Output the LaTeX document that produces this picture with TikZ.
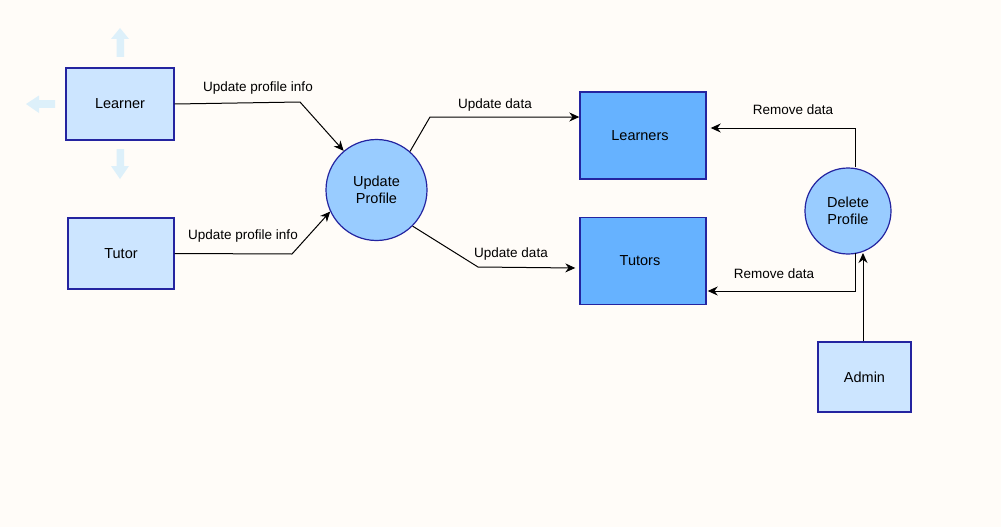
\documentclass[tikz,border=0pt]{standalone}
\usepackage{fontspec}
\setmainfont{Liberation Sans}
\usetikzlibrary{arrows.meta}
\definecolor{bgpaper}{RGB}{255,252,248}
\definecolor{edgeblue}{RGB}{36,36,160}
\definecolor{paleblue}{RGB}{204,229,255}
\definecolor{midblue}{RGB}{153,204,255}
\definecolor{storeblue}{RGB}{102,178,255}
\definecolor{ghostblue}{RGB}{221,240,250}
\tikzset{
        entity/.style={draw=edgeblue,line width=1.4pt,fill=paleblue,minimum width=#1,inner sep=0pt,font=\fontsize{14.5}{17}\selectfont},
        store/.style={draw=edgeblue,line width=1.4pt,fill=storeblue,minimum width=126pt,minimum height=87pt,inner sep=0pt,font=\fontsize{14.5}{17}\selectfont},
        process/.style={circle,draw=edgeblue,line width=1.2pt,fill=midblue,minimum size=#1,inner sep=0pt,align=center,font=\fontsize{14.5}{17}\selectfont},
        flow/.style={line width=1pt,-{Stealth[length=10pt,width=9pt]}},
        flowlabel/.style={font=\fontsize{13.5}{16}\selectfont,inner sep=0pt},
        ghost/.style={fill=ghostblue,draw=none}
}
\begin{document}
\begin{tikzpicture}[x=1pt,y=-1pt]
        \fill[bgpaper] (0,0) rectangle (1001,527);
        \useasboundingbox (0,0) rectangle (1001,527);
        \path[ghost] (120,28)--(129,39)--(124,39)--(124,57)--(116.5,57)--(116.5,39)--(111,39)--cycle;
        \path[ghost] (26,104)--(39,95.5)--(39,100)--(55,100)--(55,107.8)--(39,107.8)--(39,113)--cycle;
        \path[ghost] (120,179)--(129,166)--(124,166)--(124,149)--(116.5,149)--(116.5,166)--(111,166)--cycle;
        \node[entity=108pt,minimum height=72pt] (learner) at (120,104) {\raisebox{-1pt}{Learner}};
        \node[entity=106pt,minimum height=71pt] (tutor) at (121,253.5) {\raisebox{-1pt}{Tutor}};
        \node[process=101pt] (update) at (376.5,190) {Update\\Profile};
        \node[store] (learners) at (643,135.5) {\hspace*{-6pt}Learners};
        \node[store] (tutors) at (643,261) {\hspace*{-6pt}\raisebox{-1.5pt}{Tutors}};
        \node[process=86pt] (delete) at (848,211) {Delete\\Profile};
        \node[entity=93pt,minimum height=70pt] (admin) at (864.5,377) {\raisebox{-1pt}{Admin}};
        \coordinate (lbend) at (300,102);
        \coordinate (tbend) at (292,254);
        \coordinate (ubend) at (430,117);
        \coordinate (dbend) at (478,267);
        \draw[flow] (learner.east) -- (lbend) -- (update.130);
        \node[flowlabel] (llabel) at (258,88.5) {Update profile info};
        \draw[flow] (tutor.east) -- (tbend) -- (update.205);
        \node[flowlabel] (tlabel) at (243,236.5) {Update profile info};
        \draw[flow] (update.49) -- (ubend) -- (learners.west |- ubend);
        \node[flowlabel] (ulabel) at (495,105) {Update data};
        \draw[flow] (update.-45) -- (dbend) -- ([xshift=-4pt]tutors.west |- 0,268);
        \node[flowlabel] (dlabel) at (511,254) {Update data};
        \draw[flow] (delete.north -| 855,0) -- (855,128) -- ([xshift=4pt]learners.east |- 0,128);
        \node[flowlabel] (rlabel) at (793,110) {Remove data};
        \draw[flow] (855,253) -- (855,291) -- ([xshift=1pt]tutors.east |- 0,291);
        \node[flowlabel] (slabel) at (774,274) {Remove data};
        \draw[flow] (admin.north -| 863,0) -- (863,253);
\end{tikzpicture}
\end{document}
